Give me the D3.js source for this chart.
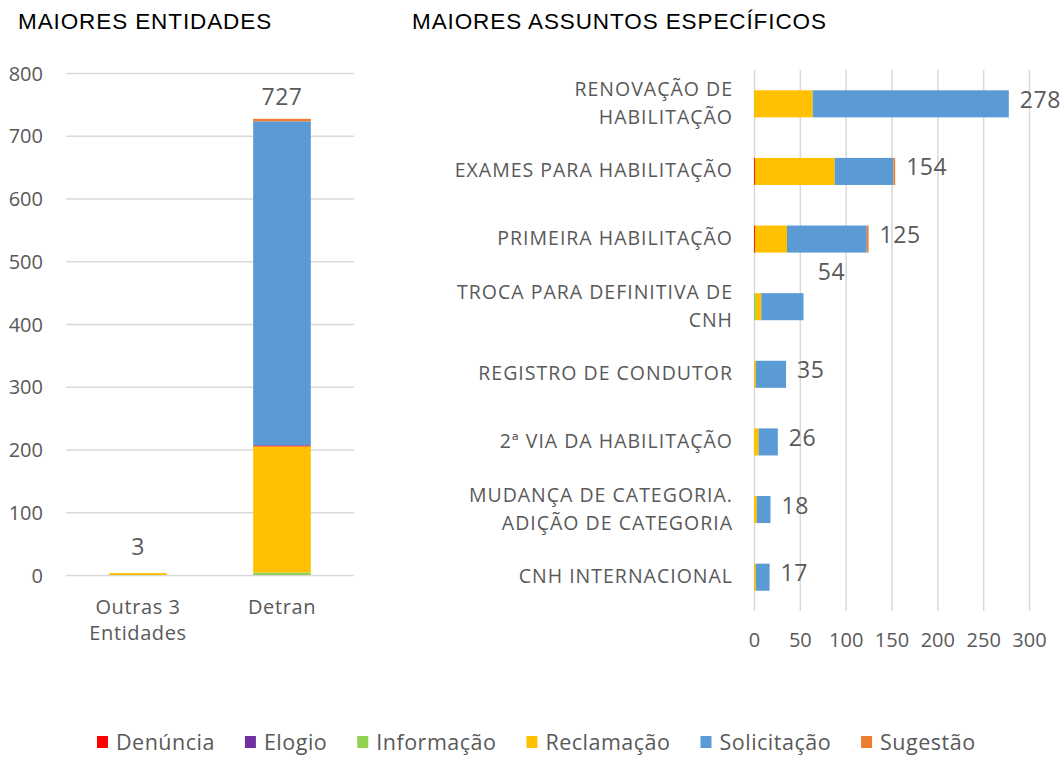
<!DOCTYPE html>
<html>
<head>
<meta charset="utf-8">
<script src="https://cdn.jsdelivr.net/npm/d3@7"></script>
<style>
    body { margin: 0; background: #fff; }
    svg text { font-family: "Open Sans", sans-serif; fill: #595959; }
    .title { font-family: "Liberation Sans", Arial, sans-serif; fill: #000; font-size: 22.5px; letter-spacing: 0.9px; }
    .grid line { stroke: #d9d9d9; stroke-width: 1.5; }
</style>
</head>
<body>
<div id="chart"></div>
<script>
// series (legend order) and colours
var seriesNames = ["Denúncia", "Elogio", "Informação", "Reclamação", "Solicitação", "Sugestão"];
var seriesColors = ["#ff0000", "#7030a0", "#92d050", "#ffc000", "#5b9bd5", "#ed7d31"];

// left chart: MAIORES ENTIDADES
var entCategories = ["Outras 3 Entidades", "Detran"];
var entLabelLines = [["Outras 3", "Entidades"], ["Detran"]];
var entDenuncia    = [0, 1];
var entElogio      = [0, 1];
var entInformacao  = [0, 4];
var entReclamacao  = [3, 201];
var entSolicitacao = [0, 516];
var entSugestao    = [0, 4];
var entTotals      = [3, 727];
var entTicks       = [0, 100, 200, 300, 400, 500, 600, 700, 800];

// right chart: MAIORES ASSUNTOS ESPECÍFICOS
var subjCategories = ["RENOVAÇÃO DE HABILITAÇÃO", "EXAMES PARA HABILITAÇÃO", "PRIMEIRA HABILITAÇÃO",
    "TROCA PARA DEFINITIVA DE CNH", "REGISTRO DE CONDUTOR", "2ª VIA DA HABILITAÇÃO",
    "MUDANÇA DE CATEGORIA. ADIÇÃO DE CATEGORIA", "CNH INTERNACIONAL"];
var subjLabelLines = [["RENOVAÇÃO DE", "HABILITAÇÃO"], ["EXAMES PARA HABILITAÇÃO"], ["PRIMEIRA HABILITAÇÃO"],
    ["TROCA PARA DEFINITIVA DE", "CNH"], ["REGISTRO DE CONDUTOR"], ["2ª VIA DA HABILITAÇÃO"],
    ["MUDANÇA DE CATEGORIA.", "ADIÇÃO DE CATEGORIA"], ["CNH INTERNACIONAL"]];
var subjDenuncia    = [0, 1, 1, 0, 0, 0, 0, 0];
var subjElogio      = [0, 0, 0, 0, 0, 0, 0, 0];
var subjInformacao  = [0, 0, 0, 2, 0, 0, 0, 0];
var subjReclamacao  = [64, 87, 35, 6, 2, 5, 3, 2];
var subjSolicitacao = [214, 64, 87, 46, 33, 21, 15, 15];
var subjSugestao    = [0, 2, 2, 0, 0, 0, 0, 0];
var subjTotals      = [278, 154, 125, 54, 35, 26, 18, 17];
var subjTicks       = [0, 50, 100, 150, 200, 250, 300];

var width = 1062;
var height = 758;

var svg = d3.select("#chart")
    .append("svg")
        .attr("width", width)
        .attr("height", height);

// build rows for d3.stack
function buildRows(cats, cols) {
    return cats.map(function (c, i) {
        var row = { cat: c };
        seriesNames.forEach(function (s, j) {
            row[s] = cols[j][i];
        });
        return row;
    });
}

var color = d3.scaleOrdinal()
    .domain(seriesNames)
    .range(seriesColors);

// ---------------- LEFT CHART ----------------

svg.append("text")
    .attr("class", "title")
    .attr("x", 18)
    .attr("y", 29)
    .text("MAIORES ENTIDADES");

var entRows = buildRows(entCategories,
    [entDenuncia, entElogio, entInformacao, entReclamacao, entSolicitacao, entSugestao]);

// stacking order in the left chart puts Informação/Reclamação at the bottom
var entStack = d3.stack()
    .keys(["Informação", "Reclamação", "Denúncia", "Elogio", "Solicitação", "Sugestão"])(entRows);

var xEnt = d3.scaleBand()
    .domain(entCategories)
    .range([66, 354])
    .paddingInner(0.6)
    .paddingOuter(0.3);

var yEnt = d3.scaleLinear()
    .domain([0, 800])
    .range([575, 73]);

svg.append("g")
        .attr("class", "grid")
        .attr("transform", "translate(66, 0)")
    .call(d3.axisLeft(yEnt)
        .tickValues(entTicks)
        .tickSize(-288)
        .tickFormat(""))
    .call(function (g) { g.select(".domain").remove(); });

svg.append("g")
        .attr("transform", "translate(46, 0)")
    .call(d3.axisLeft(yEnt)
        .tickValues(entTicks)
        .tickSize(0))
    .call(function (g) {
        g.select(".domain").remove();
        g.selectAll("text").attr("font-size", 20).attr("dy", "0.35em").attr("fill", "#595959");
    });

svg.append("g")
    .selectAll("g")
    .data(entStack)
    .enter().append("g")
        .attr("fill", function (d) { return color(d.key); })
    .selectAll("rect")
    .data(function (d) { return d; })
    .enter().append("rect")
        .attr("x", function (d) { return xEnt(d.data.cat); })
        .attr("width", xEnt.bandwidth())
        .attr("y", function (d) { return yEnt(d[1]); })
        .attr("height", function (d) { return yEnt(d[0]) - yEnt(d[1]); });

svg.append("g")
    .selectAll("text")
    .data(entCategories)
    .enter().append("text")
        .attr("text-anchor", "middle")
        .attr("x", function (d) { return xEnt(d) + xEnt.bandwidth() / 2; })
        .attr("y", function (d, i) { return yEnt(entTotals[i]) - 14 - (i === 0 ? 4 : 0); })
        .attr("font-size", 23)
        .attr("letter-spacing", 0.5)
        .text(function (d, i) { return entTotals[i]; });

entCategories.forEach(function (c, i) {
    var t = svg.append("text")
        .attr("text-anchor", "middle")
        .attr("font-size", 20)
        .attr("letter-spacing", 0.6)
        .attr("x", xEnt(c) + xEnt.bandwidth() / 2)
        .attr("y", 614);
    entLabelLines[i].forEach(function (line, k) {
        t.append("tspan")
            .attr("x", xEnt(c) + xEnt.bandwidth() / 2)
            .attr("dy", k === 0 ? 0 : 26)
            .text(line);
    });
});

// ---------------- RIGHT CHART ----------------

svg.append("text")
    .attr("class", "title")
    .attr("x", 412)
    .attr("y", 29)
    .text("MAIORES  ASSUNTOS ESPECÍFICOS");

var subjRows = buildRows(subjCategories,
    [subjDenuncia, subjElogio, subjInformacao, subjReclamacao, subjSolicitacao, subjSugestao]);

var subjStack = d3.stack().keys(seriesNames)(subjRows);

var xSubj = d3.scaleLinear()
    .domain([0, 300])
    .range([754, 1029]);

var ySubj = d3.scaleBand()
    .domain(subjCategories)
    .range([70, 611])
    .paddingInner(0.6)
    .paddingOuter(0.3);

svg.append("g")
        .attr("class", "grid")
        .attr("transform", "translate(0, 611)")
    .call(d3.axisBottom(xSubj)
        .tickValues(subjTicks)
        .tickSize(-541)
        .tickFormat(""))
    .call(function (g) { g.select(".domain").remove(); });

svg.append("g")
        .attr("transform", "translate(0, 630)")
    .call(d3.axisBottom(xSubj)
        .tickValues(subjTicks)
        .tickSize(0))
    .call(function (g) {
        g.select(".domain").remove();
        g.selectAll("text").attr("font-size", 20).attr("dy", "0.71em").attr("fill", "#595959");
    });

svg.append("g")
    .selectAll("g")
    .data(subjStack)
    .enter().append("g")
        .attr("fill", function (d) { return color(d.key); })
    .selectAll("rect")
    .data(function (d) { return d; })
    .enter().append("rect")
        .attr("x", function (d) { return xSubj(d[0]); })
        .attr("width", function (d) { return xSubj(d[1]) - xSubj(d[0]); })
        .attr("y", function (d) { return ySubj(d.data.cat); })
        .attr("height", ySubj.bandwidth());

// category labels, right aligned
subjCategories.forEach(function (c, i) {
    var lines = subjLabelLines[i];
    var cy = ySubj(c) + ySubj.bandwidth() / 2;
    var t = svg.append("text")
        .attr("text-anchor", "end")
        .attr("font-size", 19.5)
        .attr("letter-spacing", 1)
        .attr("x", 733)
        .attr("y", cy - (lines.length - 1) * 14 + 6);
    lines.forEach(function (line, k) {
        t.append("tspan")
            .attr("x", 733)
            .attr("dy", k === 0 ? 0 : 28)
            .text(line);
    });
});

// value labels (the 54 label sits above its bar in the original)
svg.append("g")
    .selectAll("text")
    .data(subjCategories)
    .enter().append("text")
        .attr("font-size", 23)
        .attr("letter-spacing", 0.5)
        .attr("text-anchor", function (d, i) { return i === 3 ? "middle" : "start"; })
        .attr("x", function (d, i) {
            return i === 3 ? xSubj(subjTotals[i]) + 28 : xSubj(subjTotals[i]) + 11;
        })
        .attr("y", function (d, i) {
            var cy = ySubj(d) + ySubj.bandwidth() / 2;
            return i === 3 ? ySubj(d) - 13 : cy + 4;
        })
        .text(function (d, i) { return subjTotals[i]; });

// ---------------- LEGEND ----------------

var legend = svg.append("g")
    .attr("transform", "translate(0, 742)");

var lx = 97;
seriesNames.forEach(function (s, i) {
    legend.append("rect")
        .attr("x", lx)
        .attr("y", -6)
        .attr("width", 11)
        .attr("height", 12)
        .attr("fill", seriesColors[i]);
    var t = legend.append("text")
        .attr("x", lx + 19)
        .attr("dy", "0.35em")
        .attr("font-size", 21.5)
        .attr("letter-spacing", 0.5)
        .text(s);
    lx += 19 + t.node().getComputedTextLength() + 30;
});
</script>
</body>
</html>
